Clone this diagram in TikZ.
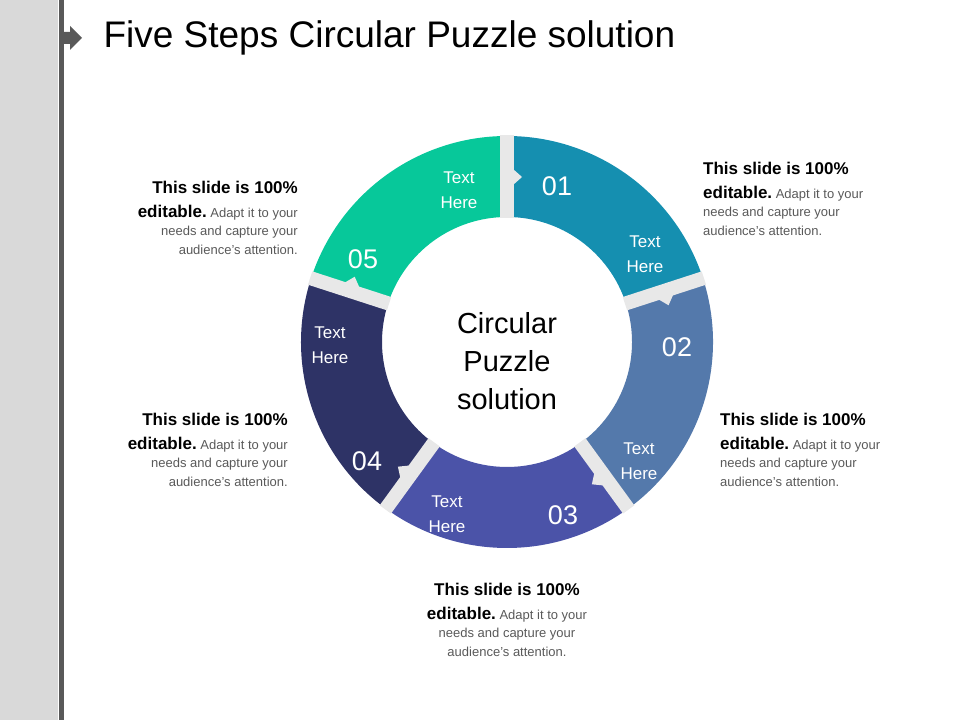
\documentclass[tikz,border=0pt]{standalone}
\usepackage{fontspec}
\setmainfont{Liberation Sans}
\usetikzlibrary{calc}
\definecolor{cA}{HTML}{158FB0}
\definecolor{cB}{HTML}{5479AB}
\definecolor{cC}{HTML}{4B53A8}
\definecolor{cD}{HTML}{2E3366}
\definecolor{cE}{HTML}{07C89A}
\definecolor{gapc}{HTML}{E8E8E8}
\definecolor{txtg}{HTML}{595959}
\tikzset{
 num/.style={text=white,font=\fontsize{27}{30}\selectfont},
 th/.style={text=white,font=\fontsize{17}{25}\selectfont,align=center},
 blk/.style={inner sep=0pt,font=\fontsize{13}{18.5}\selectfont},
}
\newcommand{\blocktext}{{\fontsize{17}{20}\selectfont\bfseries This slide is 100\%}\\[5pt]
{\fontsize{17}{20}\selectfont\bfseries editable.}\ {\color{txtg}Adapt it to your}\\
{\color{txtg}needs and capture your}\\
{\color{txtg}audience’s attention.}}
\begin{document}
\begin{tikzpicture}[x=1pt,y=1pt]
\useasboundingbox (0,0) rectangle (960,720);
\fill[gray!30] (0,0) rectangle (58,720);
\fill[black!65] (59,0) rectangle (64,720);
\fill[black!65] (62,720-44) -- (70,720-44) -- (70,720-50) -- (82,720-38) -- (70,720-26) -- (70,720-32) -- (62,720-32) -- cycle;
\node[anchor=west,font=\fontsize{37}{42}\selectfont] (title) at (100,720-38) {Five Steps Circular Puzzle solution};
\coordinate (c) at (507,378);
\def\R{206}\def\r{125}
\foreach \a/\b/\col in {90/18/cA,18/-54/cB,-54/-126/cC,-126/-198/cD,-198/-270/cE}{
 \fill[\col] ($(c)+(\a:\R)$) arc[start angle=\a,end angle=\b,radius=\R] -- ($(c)+(\b:\r)$) arc[start angle=\b,end angle=\a,radius=\r] -- cycle;
}
\foreach \a in {90,18,-54,-126,162}{
 \draw[gapc,line width=14] ($(c)+(\a:\r-1)$) -- ($(c)+(\a:\R+1)$);
 \fill[gapc] ($(c)+(\a:157)+(\a-90:6)$) -- ($(c)+(\a:165)+(\a-90:15)$) -- ($(c)+(\a:173)+(\a-90:6)$) -- cycle;
}
\node[num] (n1) at (557,720-186) {01};
\node[num] (n2) at (677,720-347) {02};
\node[num] (n3) at (563,720-515) {03};
\node[num] (n4) at (367,720-461) {04};
\node[num] (n5) at (363,720-259) {05};
\node[th] (t1) at (645,720-254) {Text\\Here};
\node[th] (t2) at (639,720-461) {Text\\Here};
\node[th] (t3) at (447,720-514) {Text\\Here};
\node[th] (t4) at (330,720-345) {Text\\Here};
\node[th] (t5) at (459,720-190) {Text\\Here};
\node[align=center,font=\fontsize{29}{38}\selectfont] (ctr) at (507,720-361) {Circular\\Puzzle\\solution};
\node[blk,anchor=north west,align=left] (b1) at (703,720-162) {\blocktext};
\node[blk,anchor=north east,align=right] (b5) at (298,720-181) {\blocktext};
\node[blk,anchor=north west,align=left] (b2) at (720,720-413) {\blocktext};
\node[blk,anchor=north east,align=right] (b4) at (288,720-413) {\blocktext};
\node[blk,anchor=north,align=center] (b3) at (507,720-583) {\blocktext};
\end{tikzpicture}
\end{document}
